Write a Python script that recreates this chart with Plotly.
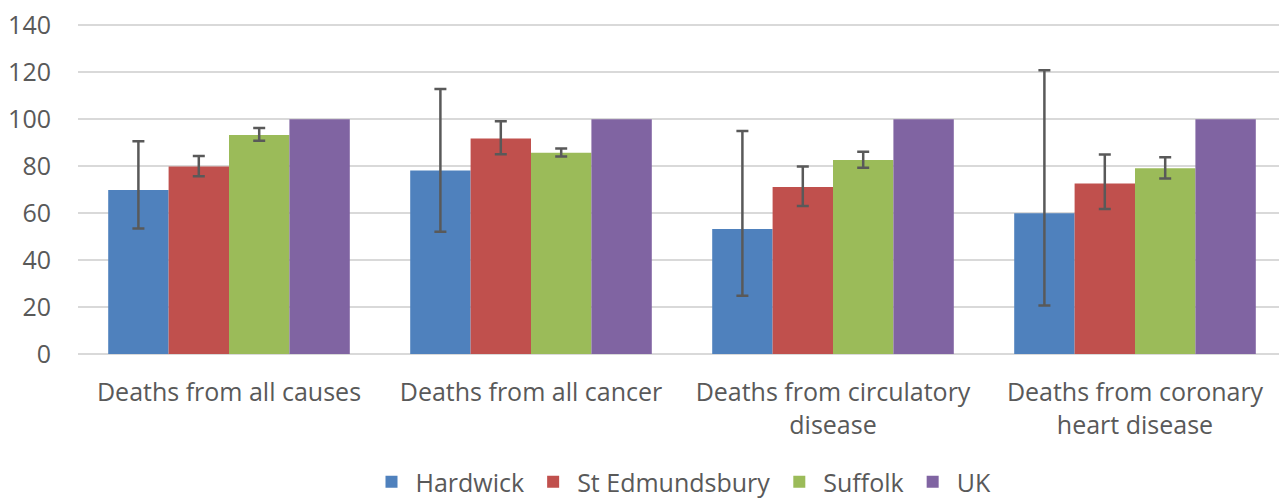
import plotly.graph_objects as go

categories = ["Deaths from all causes", "Deaths from all cancer",
              "Deaths from circulatory<br>disease", "Deaths from coronary<br>heart disease"]
series_names = ["Hardwick", "St Edmundsbury", "Suffolk", "UK"]
colors = ["#4F81BD", "#C0504D", "#9BBB59", "#8064A2"]

hardwick = [69.9, 78.2, 53.2, 60.0]
hardwick_upper = [90.6, 112.9, 95.0, 120.9]
hardwick_lower = [53.5, 52.1, 24.8, 20.7]

st_edmundsbury = [79.9, 91.8, 71.1, 72.6]
st_edmundsbury_upper = [84.3, 99.1, 79.9, 85.0]
st_edmundsbury_lower = [75.7, 85.1, 63.0, 61.8]

suffolk = [93.3, 85.7, 82.6, 79.1]
suffolk_upper = [96.3, 87.5, 86.2, 83.8]
suffolk_lower = [90.8, 84.1, 79.3, 74.8]

uk = [100, 100, 100, 100]

y_ticks = [0, 20, 40, 60, 80, 100, 120, 140]

fig = go.Figure()
data = [
    (hardwick, hardwick_upper, hardwick_lower),
    (st_edmundsbury, st_edmundsbury_upper, st_edmundsbury_lower),
    (suffolk, suffolk_upper, suffolk_lower),
    (uk, None, None),
]
for name, color, (vals, up, lo) in zip(series_names, colors, data):
    err = None
    if up is not None:
        err = dict(type="data", symmetric=False,
                   array=[u - v for u, v in zip(up, vals)],
                   arrayminus=[v - l for v, l in zip(vals, lo)],
                   color="#595959", thickness=2.5, width=6)
    fig.add_trace(go.Bar(x=categories, y=vals, name=name,
                         marker=dict(color=color, line=dict(width=0)),
                         error_y=err))

fig.update_layout(
    width=1287, height=500,
    barmode="group", bargap=0.2, bargroupgap=0,
    plot_bgcolor="white", paper_bgcolor="white",
    margin=dict(l=70, r=9, t=15, b=154, autoexpand=False),
    font=dict(family="Open Sans, sans-serif", size=25, color="#595959"),
    yaxis=dict(range=[0, 141], tickvals=y_ticks, showgrid=True,
               gridcolor="#D9D9D9", gridwidth=1.5, zeroline=True,
               zerolinecolor="#D9D9D9", zerolinewidth=2, ticks="",
               ticklabelstandoff=26, tickfont=dict(size=25),
               automargin=False, ticklabeloverflow="allow"),
    xaxis=dict(showgrid=False, ticks="", tickfont=dict(size=25),
               ticklabelstandoff=21, automargin=False),
    legend=dict(orientation="h", x=0.5, xanchor="center",
                yref="container", y=0.052, yanchor="middle",
                font=dict(size=25), traceorder="normal", itemwidth=38),
)

fig.write_html("out.html")
